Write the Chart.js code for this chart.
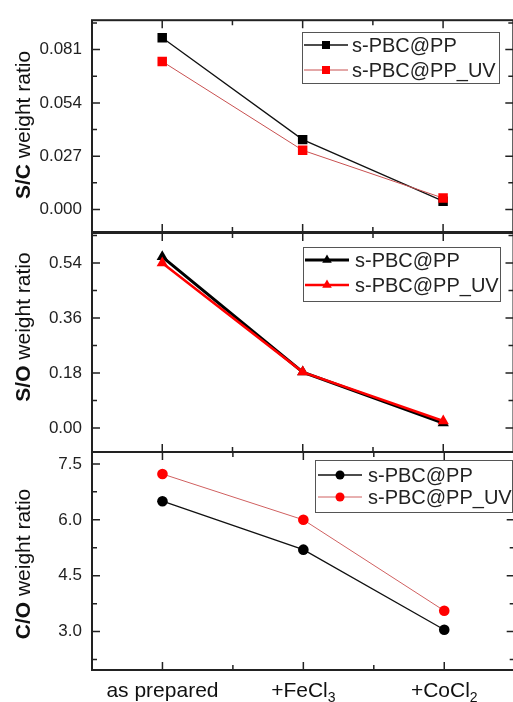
<!DOCTYPE html>
<html>
<head>
<meta charset="utf-8">
<script src="https://cdn.jsdelivr.net/npm/chart.js@4.4.0/dist/chart.umd.min.js"></script>
<style>
html, body { margin: 0; padding: 0; background: #fff; overflow: hidden; width: 513px; height: 702px; }
canvas { position: absolute; left: 0; top: 0; }
</style>
</head>
<body>
<canvas id="chartSC" width="520" height="702"></canvas>
<canvas id="chartSO" width="520" height="702"></canvas>
<canvas id="chartCO" width="520" height="702"></canvas>
<script>
const categorias = ['as prepared', '+FeCl₃', '+CoCl₂']
const series = ['s-PBC@PP', 's-PBC@PP_UV']

// S/C
const sc_pp = [0.087, 0.0354, 0.0042]
const sc_uv = [0.075, 0.0300, 0.0058]
const sc_ticks = [0, 0.027, 0.054, 0.081]

// S/O
const so_pp = [0.560, 0.183, 0.016]
const so_uv = [0.540, 0.183, 0.023]
const so_ticks = [0, 0.18, 0.36, 0.54]

// C/O
const co_pp = [6.50, 5.20, 3.05]
const co_uv = [7.23, 6.00, 3.56]
const co_ticks = [3.0, 4.5, 6.0, 7.5]

const FUENTE = 'Arial, "Liberation Sans", sans-serif'
const SUB = '₀₁₂₃₄₅₆₇₈₉'

// marco con ticks hacia adentro en los 4 lados
const marco = {
    id: 'marco',
    afterDraw(chart, args, opts) {
        const { ctx, chartArea: a } = chart
        const x = chart.scales.x, y = chart.scales.y
        ctx.save()
        ctx.strokeStyle = '#222'
        ctx.lineWidth = 2
        ctx.strokeRect(a.left, a.top, a.right - a.left, a.bottom - a.top)
        ctx.lineWidth = 1.5
        ctx.beginPath()
        const mayores = y.ticks.map(t => t.value)
        const paso = mayores[1] - mayores[0]
        const menores = [mayores[0] - paso / 2].concat(mayores.map(v => v + paso / 2))
        const ladoY = (v, len) => {
            const py = y.getPixelForValue(v)
            if (py < a.top || py > a.bottom) return
            ctx.moveTo(a.left, py); ctx.lineTo(a.left + len, py)
            ctx.moveTo(a.right, py); ctx.lineTo(a.right - len, py)
        }
        mayores.forEach(v => ladoY(v, 8))
        menores.forEach(v => ladoY(v, 5))
        const ladoX = (v, len) => {
            const px = x.getPixelForValue(v)
            ctx.moveTo(px, a.bottom); ctx.lineTo(px, a.bottom - len)
            ctx.moveTo(px, a.top); ctx.lineTo(px, a.top + len)
        }
        categorias.forEach((c, i) => ladoX(i, 8))
        categorias.slice(1).forEach((c, i) => ladoX(i + 0.5, 5))
        ctx.stroke()
        ctx.restore()
    }
}

// etiquetas del eje X con subindices de verdad
const etiquetasX = {
    id: 'etiquetasX',
    afterDraw(chart, args, opts) {
        if (!opts.mostrar) return
        const ctx = chart.ctx
        const x = chart.scales.x
        const base = chart.chartArea.bottom + opts.baja
        ctx.save()
        ctx.fillStyle = '#111'
        ctx.textBaseline = 'alphabetic'
        categorias.forEach((c, i) => {
            let txt = c, sub = ''
            while (SUB.includes(txt.slice(-1))) {
                sub = SUB.indexOf(txt.slice(-1)) + sub
                txt = txt.slice(0, -1)
            }
            ctx.font = '21px ' + FUENTE
            const w1 = ctx.measureText(txt).width
            ctx.font = '14px ' + FUENTE
            const w2 = ctx.measureText(sub).width
            const x0 = x.getPixelForValue(i) - (w1 + w2) / 2
            ctx.font = '21px ' + FUENTE
            ctx.fillText(txt, x0, base)
            ctx.font = '14px ' + FUENTE
            ctx.fillText(sub, x0 + w1, base + 5)
        })
        ctx.restore()
    }
}

// titulo del eje Y con parte en negrita
const tituloY = {
    id: 'tituloY',
    afterDraw(chart, args, opts) {
        const ctx = chart.ctx
        ctx.save()
        ctx.translate(opts.x, opts.y)
        ctx.rotate(-Math.PI / 2)
        ctx.fillStyle = '#111'
        ctx.textBaseline = 'middle'
        ctx.font = 'bold 21px ' + FUENTE
        const w1 = ctx.measureText(opts.negrita).width
        ctx.font = '21px ' + FUENTE
        const w2 = ctx.measureText(opts.resto).width
        let x0 = -(w1 + w2) / 2
        ctx.font = 'bold 21px ' + FUENTE
        ctx.fillText(opts.negrita, x0, 0)
        ctx.font = '21px ' + FUENTE
        ctx.fillText(opts.resto, x0 + w1, 0)
        ctx.restore()
    }
}

// leyenda dentro del area
const leyenda = {
    id: 'leyenda',
    afterDraw(chart, args, opts) {
        const ctx = chart.ctx
        const b = opts.caja
        ctx.save()
        ctx.fillStyle = '#fff'
        ctx.fillRect(b[0], b[1], b[2], b[3])
        ctx.strokeStyle = '#555'
        ctx.lineWidth = 1
        ctx.strokeRect(b[0] + 0.5, b[1] + 0.5, b[2], b[3])
        chart.data.datasets.forEach((ds, i) => {
            const ry = opts.filas[i]
            ctx.strokeStyle = ds.borderColor
            ctx.lineWidth = ds.borderWidth
            ctx.beginPath()
            ctx.moveTo(opts.lineaX, ry)
            ctx.lineTo(opts.lineaX + 44, ry)
            ctx.stroke()
            ctx.fillStyle = ds.pointBackgroundColor
            Chart.helpers.drawPoint(ctx, { pointStyle: ds.pointStyle, radius: ds.pointRadius * 0.85, borderWidth: 0, rotation: 0 }, opts.lineaX + 22, ry)
            ctx.fillStyle = '#222'
            ctx.font = '20px ' + FUENTE
            ctx.textBaseline = 'middle'
            ctx.fillText(ds.label, opts.textoX, ry + 1)
        })
        ctx.restore()
    }
}

function crearPanel(id, pp, uv, ticks, dec, estilo, cfg) {
    return new Chart(document.getElementById(id), {
        type: 'line',
        data: {
            labels: categorias,
            datasets: [{
                label: series[0],
                data: pp,
                borderColor: estilo.negro,
                borderWidth: estilo.anchoNegro,
                pointBackgroundColor: '#000',
                pointBorderWidth: 0,
                pointStyle: estilo.punto,
                pointRadius: estilo.radio,
                order: 1
            }, {
                label: series[1],
                data: uv,
                borderColor: estilo.rojo,
                borderWidth: estilo.anchoRojo,
                pointBackgroundColor: '#ff0000',
                pointBorderWidth: 0,
                pointStyle: estilo.punto,
                pointRadius: estilo.radio,
                order: 0
            }]
        },
        options: {
            responsive: false,
            animation: false,
            events: [],
            layout: { padding: { top: cfg.top, bottom: cfg.bottom, left: 0, right: 2 } },
            scales: {
                x: {
                    display: cfg.ejeX,
                    offset: true,
                    grid: { display: false, drawTicks: false },
                    border: { display: false },
                    ticks: { display: false },
                    afterFit: s => { s.height = cfg.ejeX ? 32 : 0 }
                },
                y: {
                    min: cfg.min,
                    max: cfg.max,
                    grid: { display: false, drawTicks: false },
                    border: { display: false },
                    afterBuildTicks: s => { s.ticks = ticks.map(v => ({ value: v })) },
                    afterFit: s => { s.width = 92 },
                    ticks: { padding: 10, color: '#222', font: { family: FUENTE, size: 17 }, callback: v => Number(v).toFixed(dec) }
                }
            },
            plugins: {
                legend: { display: false },
                tooltip: { enabled: false },
                tituloY: cfg.titulo,
                leyenda: cfg.leyenda,
                etiquetasX: { mostrar: cfg.ejeX, baja: 27 }
            }
        },
        plugins: [marco, tituloY, leyenda, etiquetasX]
    })
}

crearPanel('chartSC', sc_pp, sc_uv, sc_ticks, 3,
    { negro: '#111', anchoNegro: 1.3, rojo: '#c85050', anchoRojo: 1, punto: 'rect', radio: 6.7 },
    { top: 15, bottom: 470, ejeX: false, min: -0.0114, max: 0.0959,
      titulo: { negrita: 'S/C', resto: ' weight ratio', x: 24, y: 125 },
      leyenda: { caja: [302, 32, 197, 51], filas: [45, 70], lineaX: 304, textoX: 352 } })

crearPanel('chartSO', so_pp, so_uv, so_ticks, 2,
    { negro: '#000', anchoNegro: 3, rojo: '#ff0000', anchoRojo: 2.5, punto: 'triangle', radio: 6.5 },
    { top: 233, bottom: 250, ejeX: false, min: -0.0785, max: 0.638,
      titulo: { negrita: 'S/O', resto: ' weight ratio', x: 24, y: 327 },
      leyenda: { caja: [303, 247, 197, 54], filas: [260, 285], lineaX: 305, textoX: 355 } })

crearPanel('chartCO', co_pp, co_uv, co_ticks, 1,
    { negro: '#111', anchoNegro: 1.3, rojo: '#d06060', anchoRojo: 1, punto: 'circle', radio: 5.3 },
    { top: 452, bottom: 0, ejeX: true, min: 1.97, max: 7.82,
      titulo: { negrita: 'C/O', resto: ' weight ratio', x: 24, y: 564 },
      leyenda: { caja: [315, 460, 197, 52], filas: [475, 497], lineaX: 318, textoX: 368 } })
</script>
</body>
</html>
